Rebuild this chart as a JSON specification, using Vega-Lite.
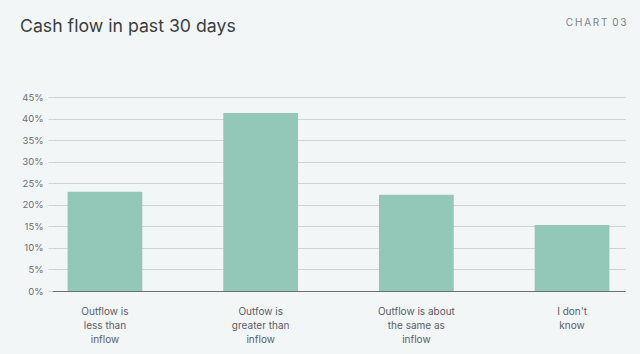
{
  "$schema": "https://vega.github.io/schema/vega-lite/v6.json",
  "width": 573,
  "height": 194,
  "autosize": "none",
  "padding": {"left": 52, "top": 97, "right": 15, "bottom": 63},
  "background": "#f3f6f6",
  "title": {
    "text": "Cash flow in past 30 days",
    "anchor": "start",
    "frame": "group",
    "dx": -32,
    "offset": -19,
    "font": "Inter",
    "fontSize": 17.7,
    "fontWeight": "normal",
    "color": "#3a3d40"
  },
  "data": {
    "values": [
      {"category": "Outflow is|less than|inflow", "share": 23.0},
      {"category": "Outfow is|greater than|inflow", "share": 41.3},
      {"category": "Outflow is about|the same as|inflow", "share": 22.3},
      {"category": "I don't|know", "share": 15.3}
    ]
  },
  "mark": {"type": "bar", "color": "#93c7b8"},
  "encoding": {
    "x": {
      "field": "category",
      "type": "nominal",
      "sort": null,
      "scale": {"paddingInner": 0.52, "paddingOuter": 0.1},
      "axis": {
        "title": null,
        "labelAngle": 0,
        "labelExpr": "split(datum.label, '|')",
        "labelFont": "Inter",
        "labelFontSize": 10,
        "labelColor": "#5a6068",
        "labelLineHeight": 14,
        "labelPadding": 15,
        "ticks": false,
        "domainColor": "#6b7075",
        "domainWidth": 1
      }
    },
    "y": {
      "field": "share",
      "type": "quantitative",
      "scale": {"domain": [0, 45]},
      "axis": {
        "values": [0, 5, 10, 15, 20, 25, 30, 35, 40, 45],
        "labelExpr": "datum.value + '%'",
        "labelFont": "Inter",
        "labelFontSize": 9.5,
        "labelColor": "#6a6f75",
        "labelPadding": 5,
        "tickSize": 4,
        "tickColor": "#cfd4d4",
        "gridColor": "#cfd4d4",
        "domain": false,
        "title": "C\u2009H\u2009A\u2009R\u2009T\u2009 0\u20093",
        "titleAngle": 0,
        "titleAlign": "right",
        "titleBaseline": "middle",
        "titleX": 574,
        "titleY": -75,
        "titleFont": "Inter",
        "titleFontSize": 10,
        "titleFontWeight": "normal",
        "titleColor": "#7d8288"
      }
    }
  },
  "config": {"view": {"stroke": null}}
}
